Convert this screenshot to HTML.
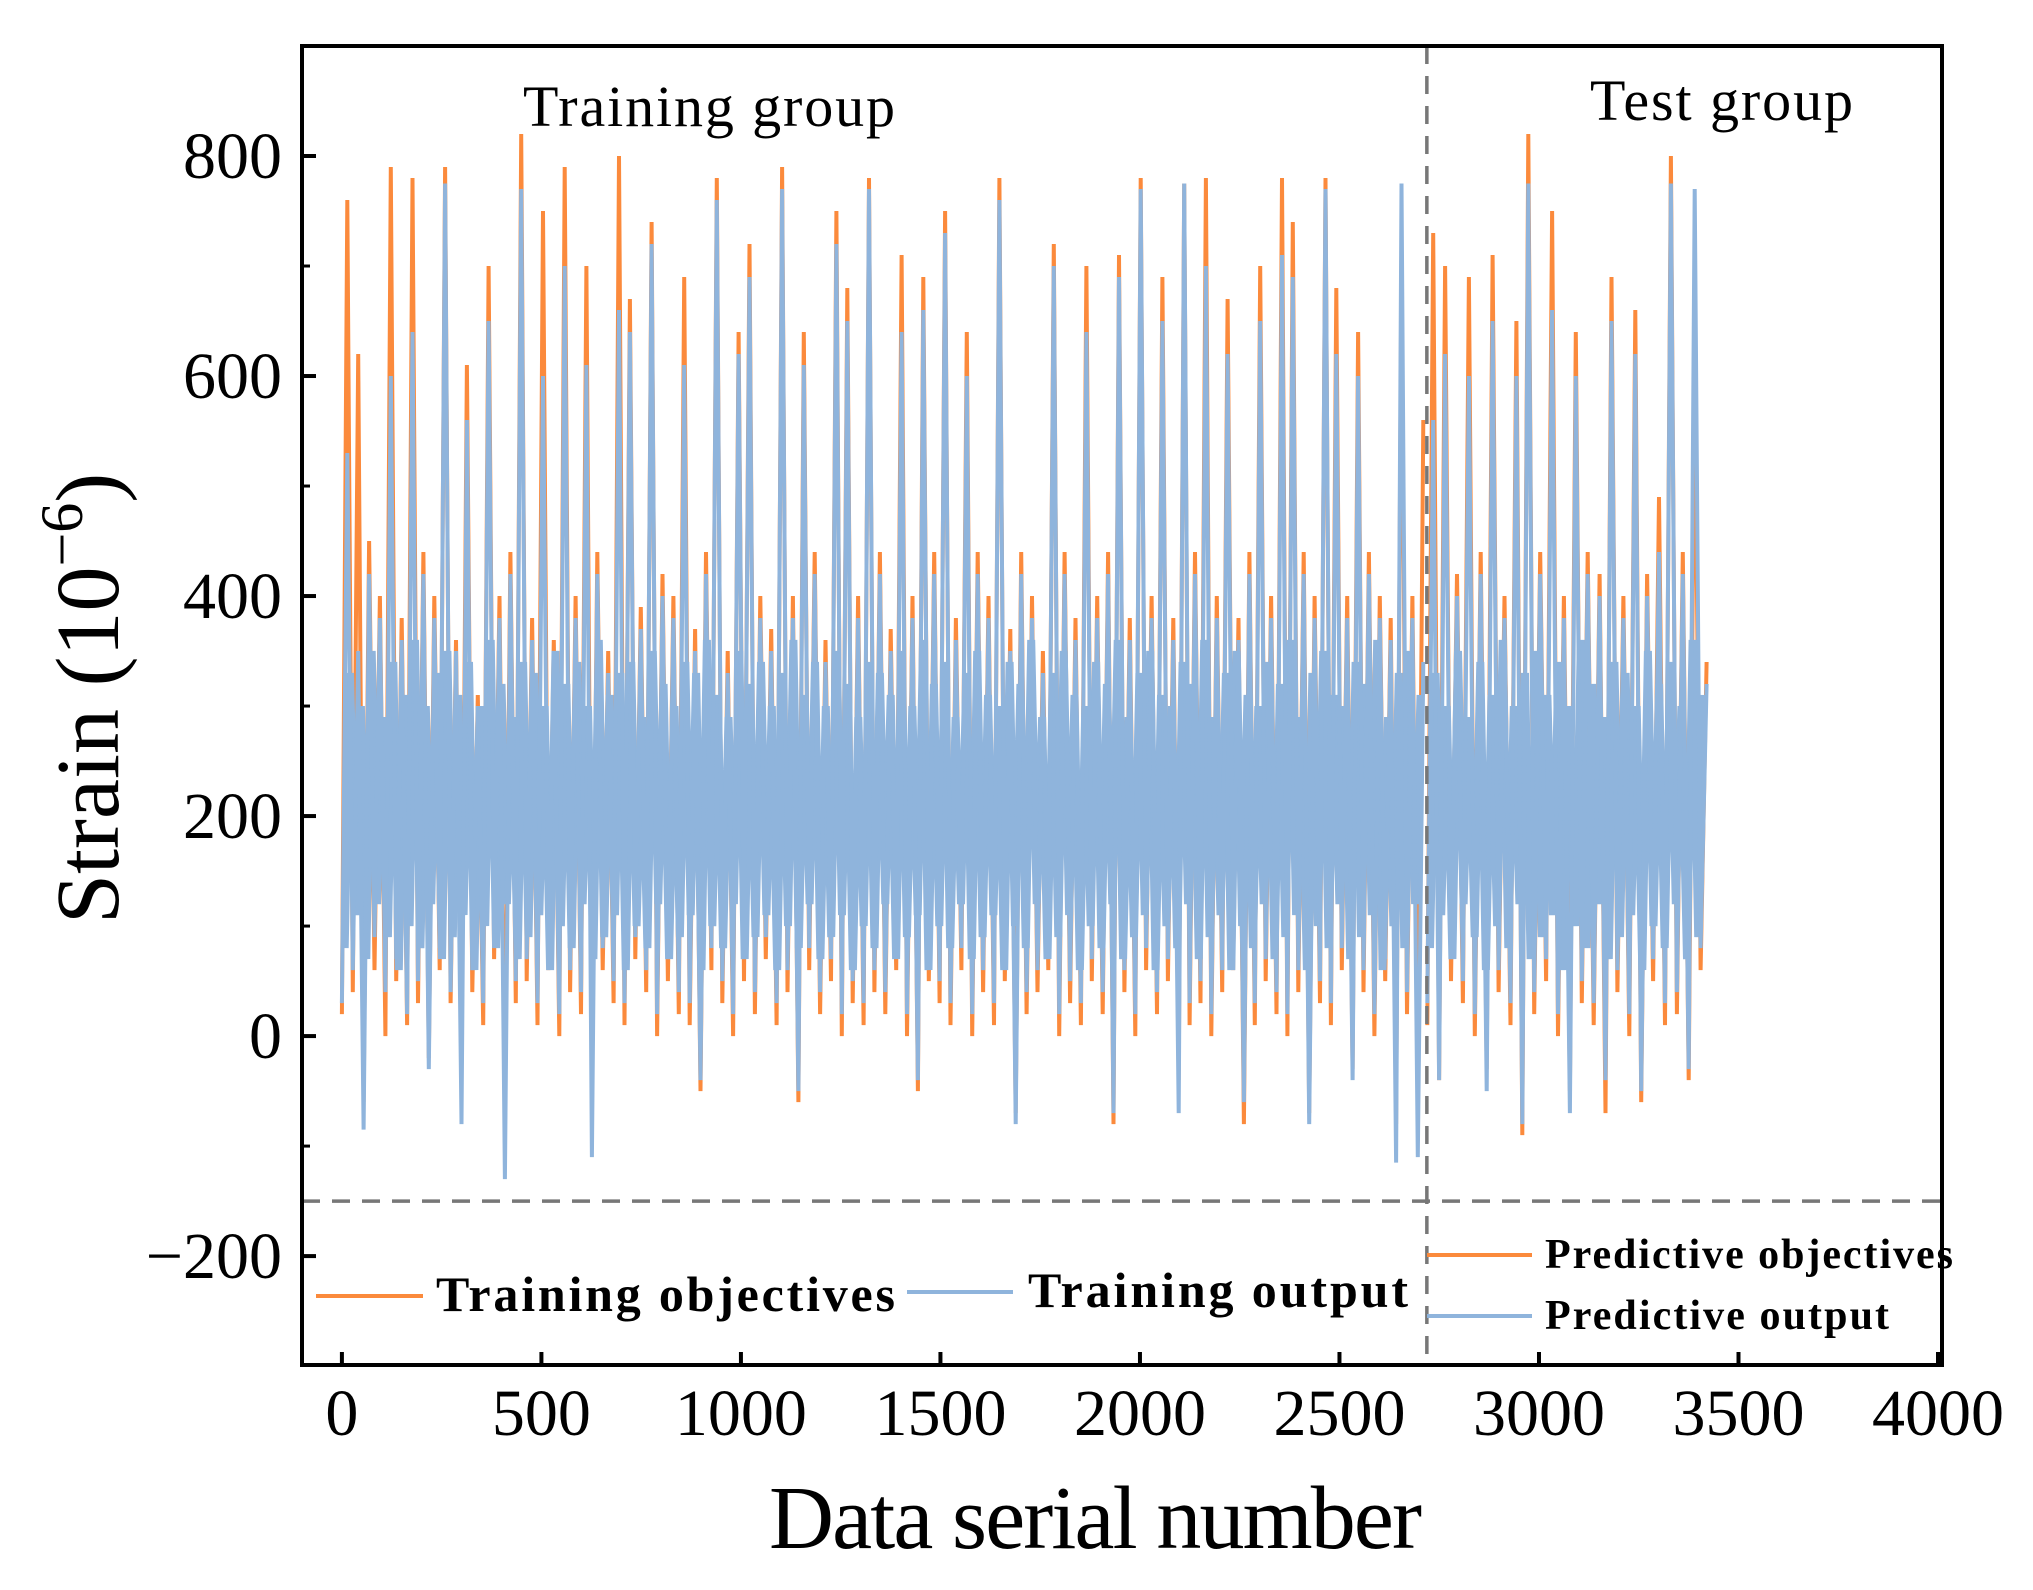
<!DOCTYPE html>
<html><head><meta charset="utf-8"><style>
html,body{margin:0;padding:0;background:#fff;}
svg{display:block;font-family:"Liberation Serif",serif;}
</style></head><body>
<svg id="chart" width="2033" height="1590" viewBox="0 0 2033 1590" xmlns="http://www.w3.org/2000/svg">
<g id="series"></g>
<g id="axes"></g>
<text x="523" y="126" font-size="58" textLength="372">Training group</text>
<text x="1590" y="120" font-size="58" textLength="263">Test group</text>
<text x="769" y="1548" font-size="90" textLength="653">Data serial number</text>
<text transform="translate(118,924) rotate(-90)" font-size="90">Strain (10<tspan font-size="60" dy="-36">−6</tspan><tspan dy="36">)</tspan></text>
<g>
<line x1="316" y1="1296" x2="423" y2="1296" stroke="#fb8a3c" stroke-width="4"/>
<text x="436" y="1311" font-size="50" font-weight="bold" textLength="459">Training objectives</text>
<line x1="907" y1="1292" x2="1013" y2="1292" stroke="#8fb4dc" stroke-width="4"/>
<text x="1028" y="1307" font-size="50" font-weight="bold" textLength="380">Training output</text>
</g>
<g>
<line x1="1427" y1="1255" x2="1532" y2="1255" stroke="#fb8a3c" stroke-width="4"/>
<text x="1545" y="1268" font-size="42" font-weight="bold" textLength="408">Predictive objectives</text>
<line x1="1427" y1="1316" x2="1532" y2="1316" stroke="#8fb4dc" stroke-width="4"/>
<text x="1545" y="1329" font-size="42" font-weight="bold" textLength="344">Predictive output</text>
</g>
</svg>
<script>
const blueTrain = [30,530,60,350,-85,420,90,380,40,600,70,360,20,640,50,420,-30,380,80,775,
40,350,-80,560,60,300,30,650,90,380,-130,420,50,770,70,360,30,600,80,340,
20,700,60,380,40,610,-110,420,80,330,50,660,30,640,90,370,60,720,20,400,
70,380,40,610,30,350,-40,420,80,760,50,330,20,620,70,690,40,380,90,350,
30,770,60,380,-50,610,80,420,40,340,70,720,20,650,50,380,30,770,60,420,
40,350,80,640,20,380,-40,660,70,420,50,730,30,360,80,600,20,420,60,380,
30,760,70,350,-80,420,40,380,60,330,80,700,20,420,50,360,30,640,70,380,
40,420,-70,690,60,360,20,770,80,380,40,650,70,360,-70,775,30,420,50,700,
20,380,60,620,80,360,-60,420,30,650,70,380,40,710,20,690,60,420,-80,380,
50,770,30,620,80,380,-40,600,60,420,20,380,70,360,-115,775,40,380,-110,340];
const blueTest = [30,560,-40,620,70,400,50,600,20,420,-50,650,60,380,30,600,-80,775,40,420,70,660,20,380,-70,600,50,420,30,400,-40,650,60,380,20,620,-50,400,70,440,30,775,40,420,-30,770,80,320];
const blueBodyTrain = [80,330,110,300,70,350,120,290,90,340,60,310,100,360,80,300,120,330,70,350,
90,310,110,340,60,300,100,360,80,320,120,290,70,340,90,330,110,300,60,350,
100,320,80,340,120,300,70,360,90,310,110,330,60,340,100,290,80,350,120,320,
70,300,90,340,110,330,60,360,100,310,80,290,120,350,70,320,90,340,110,300,
60,330,100,360,80,310,120,340,70,300,90,350,110,320,60,290,100,340,80,330,
120,310,70,350,90,300,110,360,60,320,100,340,80,290,120,330,70,350,90,310,
110,300,60,340,100,320,80,360,120,290,70,330,90,350,110,310,60,300,100,340,
80,320,120,360,70,290,90,330,110,350,60,310,100,300,80,340,120,320,70,360,
90,290,110,330,60,350,100,310,80,300,120,340,70,320,90,360,110,290,60,330,
100,350,80,310,120,300,70,340,90,320,110,360,60,290,100,330,80,350,120,310];
const blueBodyTest = [80,330,110,300,70,350,120,290,90,340,60,310,100,360,80,300,120,330,70,350,90,310,110,340,60,300,100,360,80,320,120,290,70,340,90,330,110,300,60,350,100,320,80,340,120,300,70,360,90,310];
const orangeTrain = [20,760,40,620,-60,450,60,400,0,790,50,380,10,780,30,440,-20,400,60,790,
30,360,-30,610,40,310,10,700,70,400,-70,440,30,820,50,380,10,750,60,360,
0,790,40,400,20,700,-50,440,60,350,30,800,10,670,70,390,40,740,0,420,
50,400,20,690,10,370,-50,440,60,780,30,350,0,640,50,720,20,400,70,370,
10,790,40,400,-60,640,60,440,20,360,50,750,0,680,30,400,10,780,40,440,
20,370,60,710,0,400,-50,690,50,440,30,750,10,380,60,640,0,440,40,400,
10,780,50,370,-70,440,20,400,40,350,60,720,0,440,30,380,10,700,50,400,
20,440,-80,710,40,380,0,780,60,400,20,690,50,380,-40,775,10,440,30,780,
0,400,40,670,60,380,-80,440,10,700,50,400,20,780,0,740,40,440,-70,400,
30,780,10,680,60,400,-30,640,40,440,0,400,50,380,-80,710,20,400,-60,560];
const orangeTest = [10,730,-40,700,50,420,30,690,0,440,-30,710,40,400,10,650,-90,820,20,440,50,750,0,400,-50,640,30,440,10,420,-70,690,40,400,0,660,-60,420,50,490,10,800,20,440,-40,620,60,340];
const trainRange = [0, 2710];
const testRange = [2720, 3420];
const trainBodyRange = [7, 2703];
const testBodyRange = [2727, 3413];
const xTicks = [0,500,1000,1500,2000,2500,3000,3500,4000];
const yTicks = [-200,0,200,400,600,800];
const yMinorTicks = [-300,-100,100,300,500,700,900];
const splitX = 2719;
const splitY = -150;

const NS = "http://www.w3.org/2000/svg";
const X0 = 302, X1 = 1942, Y0 = 46, Y1 = 1365;
const xMin = -100, xMax = 4010, yMin = -299, yMax = 900;
function xs(v){ return X0 + (v - xMin) / (xMax - xMin) * (X1 - X0); }
function ys(v){ return Y1 - (v - yMin) / (yMax - yMin) * (Y1 - Y0); }
function mk(tag, attrs, parent){ const e = document.createElementNS(NS, tag); for (const k in attrs) e.setAttribute(k, attrs[k]); parent.appendChild(e); return e; }

const series = document.getElementById('series');
const axes = document.getElementById('axes');

function drawSeries(vals, range, color, name, sw){
  const n = vals.length;
  const pts = vals.map((v,i)=>{ const xv = range[0] + (range[1]-range[0]) * i/(n-1); return xs(xv).toFixed(1)+','+ys(v).toFixed(1); }).join(' ');
  const p = mk('polyline', {points: pts, fill:'none', stroke: color, 'stroke-width': sw, 'stroke-linejoin':'bevel'}, series);
  
  
}
drawSeries(orangeTrain, trainRange, '#fb8a3c', 'training-objectives-line', 4);
drawSeries(orangeTest, testRange, '#fb8a3c', 'predictive-objectives-line', 4);
drawSeries(blueBodyTrain, trainBodyRange, '#8fb4dc', 'training-output-body-line', 8);
drawSeries(blueBodyTest, testBodyRange, '#8fb4dc', 'predictive-output-body-line', 8);
drawSeries(blueTrain, trainRange, '#8fb4dc', 'training-output-line', 4);
drawSeries(blueTest, testRange, '#8fb4dc', 'predictive-output-line', 4);

const vd = mk('line', {x1: xs(splitX), x2: xs(splitX), y1: Y0, y2: Y1, stroke:'#777', 'stroke-width':3.5, 'stroke-dasharray':'18 12'}, axes);


const hd = mk('line', {x1: X0, x2: X1, y1: ys(splitY), y2: ys(splitY), stroke:'#777', 'stroke-width':3.5, 'stroke-dasharray':'18 12'}, axes);



const frame = mk('rect', {x: X0, y: Y0, width: X1-X0, height: Y1-Y0, fill:'none', stroke:'#000', 'stroke-width':4}, axes);



yTicks.forEach(v=>{
  const y = ys(v);
  const t = mk('line', {x1: X0, x2: X0+14, y1: y, y2: y, stroke:'#000', 'stroke-width':4}, axes);
  
  
  const l = mk('text', {x: 282, y: y+22, 'font-size':66, 'text-anchor':'end'}, axes);
  l.textContent = v < 0 ? '−' + Math.abs(v) : String(v);
  
  
});
yMinorTicks.forEach(v=>{
  const y = ys(v);
  if (y < Y0 || y > Y1) return;
  const t = mk('line', {x1: X0, x2: X0+8, y1: y, y2: y, stroke:'#000', 'stroke-width':3}, axes);
  
  
});
xTicks.forEach(v=>{
  const x = xs(v);
  const t = mk('line', {x1: x, x2: x, y1: Y1, y2: Y1-13, stroke:'#000', 'stroke-width':4}, axes);
  
  
  const l = mk('text', {x: x, y: 1435, 'font-size':66, 'text-anchor':'middle'}, axes);
  l.textContent = String(v);
  
  
});
</script>
</body></html>
